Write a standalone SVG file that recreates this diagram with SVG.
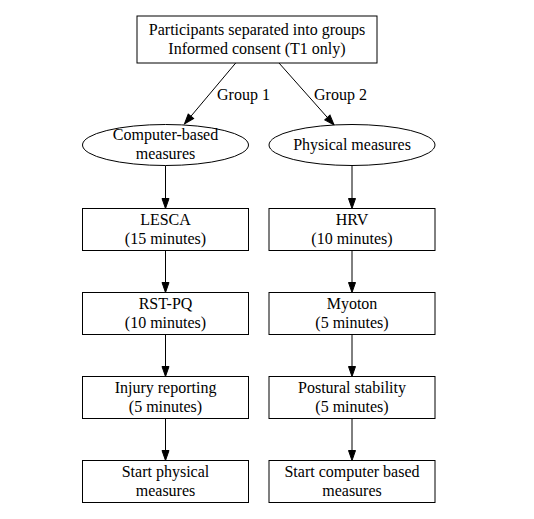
<svg xmlns="http://www.w3.org/2000/svg" width="534" height="519" viewBox="0 0 534 519">
<style>
.n{fill:#fff;stroke:#000;stroke-width:1}
.t{font-family:"Liberation Serif","Times New Roman",serif;font-size:16px;fill:#000;text-anchor:middle}
.e{fill:none;stroke:#000;stroke-width:1}
.l{font-family:"Liberation Serif","Times New Roman",serif;font-size:16px;fill:#000}
</style>
<defs>
<marker id="a" markerUnits="userSpaceOnUse" markerWidth="10" markerHeight="7" refX="0" refY="3.5" orient="auto" overflow="visible">
<path d="M0,0 L10,3.5 L0,7 z" fill="#000" stroke="#000" stroke-width="1"/>
</marker>
</defs>
<rect width="534" height="519" fill="#fff"/>
<g id="edges">
<path class="e" d="M235.7,63 L190.9,116.3" marker-end="url(#a)"/>
<text class="l" x="217" y="99.5">Group 1</text>
<path class="e" d="M279,63 L327.4,117.5" marker-end="url(#a)"/>
<text class="l" x="314" y="99.5">Group 2</text>
<path class="e" d="M165.5,165.5 L165.5,198.5" marker-end="url(#a)"/>
<path class="e" d="M352,165.5 L352,198.5" marker-end="url(#a)"/>
<path class="e" d="M165.5,250.5 L165.5,282.5" marker-end="url(#a)"/>
<path class="e" d="M352,250.5 L352,282.5" marker-end="url(#a)"/>
<path class="e" d="M165.5,334.5 L165.5,366.5" marker-end="url(#a)"/>
<path class="e" d="M352,334.5 L352,366.5" marker-end="url(#a)"/>
<path class="e" d="M165.5,418.5 L165.5,450.5" marker-end="url(#a)"/>
<path class="e" d="M352,418.5 L352,450.5" marker-end="url(#a)"/>
</g>
<g id="start">
<rect class="n" x="137" y="16" width="240" height="47"/>
<text class="t" x="257" y="34.5">Participants separated into groups</text>
<text class="t" x="257" y="53.5">Informed consent (T1 only)</text>
</g>
<g id="computer">
<ellipse class="n" cx="165.5" cy="145" rx="83" ry="20.5"/>
<text class="t" x="165.5" y="139.5">Computer-based</text>
<text class="t" x="165.5" y="158.5">measures</text>
</g>
<g id="physical">
<ellipse class="n" cx="352" cy="145" rx="83" ry="20.5"/>
<text class="t" x="352" y="149.5">Physical measures</text>
</g>
<g id="lesca">
<rect class="n" x="82.5" y="208.5" width="166" height="42"/>
<text class="t" x="165.5" y="224.5">LESCA</text>
<text class="t" x="165.5" y="243.5">(15 minutes)</text>
</g>
<g id="hrv">
<rect class="n" x="269" y="208.5" width="166" height="42"/>
<text class="t" x="352" y="224.5">HRV</text>
<text class="t" x="352" y="243.5">(10 minutes)</text>
</g>
<g id="rstpq">
<rect class="n" x="82.5" y="292.5" width="166" height="42"/>
<text class="t" x="165.5" y="308.5">RST-PQ</text>
<text class="t" x="165.5" y="327.5">(10 minutes)</text>
</g>
<g id="myoton">
<rect class="n" x="269" y="292.5" width="166" height="42"/>
<text class="t" x="352" y="308.5">Myoton</text>
<text class="t" x="352" y="327.5">(5 minutes)</text>
</g>
<g id="injury">
<rect class="n" x="82.5" y="376.5" width="166" height="42"/>
<text class="t" x="165.5" y="392.5">Injury reporting</text>
<text class="t" x="165.5" y="411.5">(5 minutes)</text>
</g>
<g id="postural">
<rect class="n" x="269" y="376.5" width="166" height="42"/>
<text class="t" x="352" y="392.5">Postural stability</text>
<text class="t" x="352" y="411.5">(5 minutes)</text>
</g>
<g id="startphys">
<rect class="n" x="82.5" y="460.5" width="166" height="42"/>
<text class="t" x="165.5" y="476.5">Start physical</text>
<text class="t" x="165.5" y="495.5">measures</text>
</g>
<g id="startcomp">
<rect class="n" x="269" y="460.5" width="166" height="42"/>
<text class="t" x="352" y="476.5">Start computer based</text>
<text class="t" x="352" y="495.5">measures</text>
</g>
</svg>
